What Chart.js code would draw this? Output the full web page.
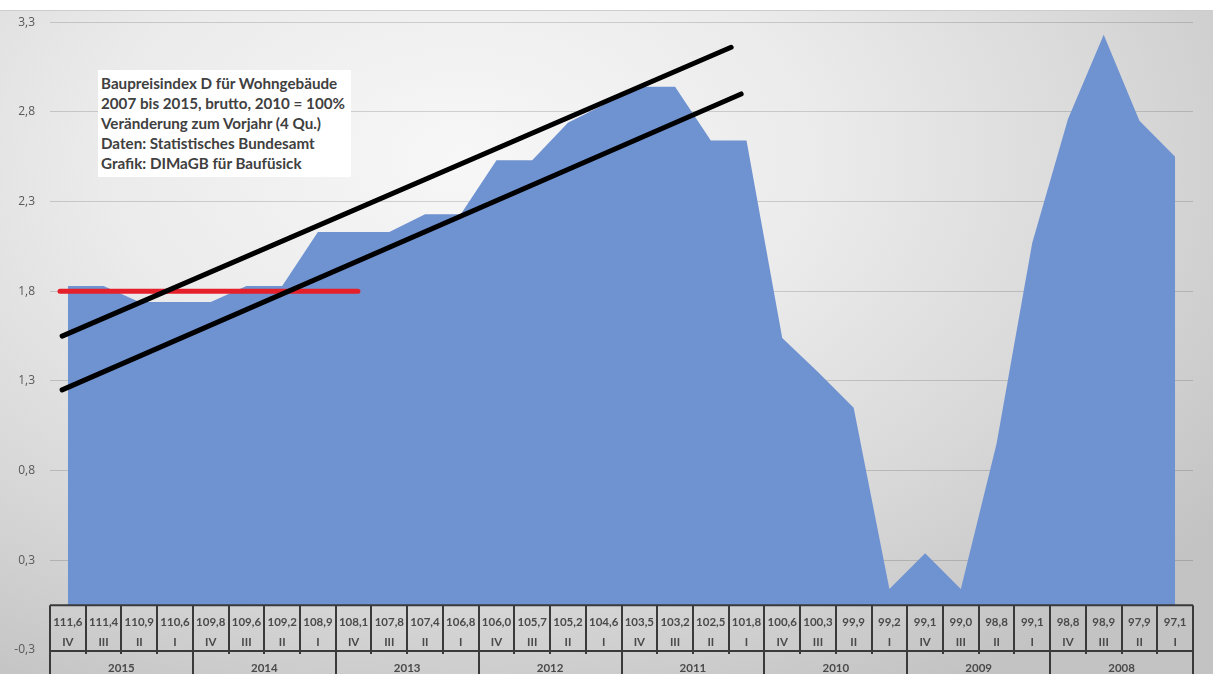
<!DOCTYPE html>
<html lang="de">
<head>
<meta charset="UTF-8">
<title>Baupreisindex Wohngebäude</title>
<script src="https://cdn.jsdelivr.net/npm/chart.js@4"></script>
<style>
  body { margin: 0; background: #fff; }
  #wrap { position: relative; width: 1213px; height: 674px; overflow: hidden; }
  #bg {
    position: absolute; left: 0; top: 10px; width: 1213px; height: 664px;
    border-top: 1px solid #cdcdcd;
    background: radial-gradient(ellipse 78% 92% at 38% 22%, #f7f7f7 0%, #ebebeb 38%, #d8d8d8 70%, #c3c3c3 100%);
  }
  #chart { position: absolute; left: 0; top: 0; }
  .info {
    position: absolute; left: 98px; top: 70px; width: 250px; height: 102px;
    padding: 3px 0 2px 3px; background: #fff;
    font: bold 15.2px Lato, sans-serif; line-height: 20px; color: #404040;
    white-space: nowrap;
  }
</style>
</head>
<body>
<div id="wrap">
  <div id="bg"></div>
  <canvas id="chart" width="1213" height="674"></canvas>
  <div class="info">
    Baupreisindex D für Wohngebäude<br>
    2007 bis 2015, brutto, 2010 = 100%<br>
    Veränderung zum Vorjahr (4 Qu.)<br>
    Daten: Statistisches Bundesamt<br>
    Grafik: DIMaGB für Baufüsick
  </div>
</div>

<script>
// Quarters run newest (2015 IV) to oldest (2008 I)
const years = ['2015', '2014', '2013', '2012', '2011', '2010', '2009', '2008'];
const quarters = ['IV', 'III', 'II', 'I'];
const indexValues = ['111,6', '111,4', '110,9', '110,6', '109,8', '109,6', '109,2', '108,9',
                     '108,1', '107,8', '107,4', '106,8', '106,0', '105,7', '105,2', '104,6',
                     '103,5', '103,2', '102,5', '101,8', '100,6', '100,3', '99,9', '99,2',
                     '99,1', '99,0', '98,8', '99,1', '98,8', '98,9', '97,9', '97,1'];

// change to previous year in %
const changePct = [1.78, 1.78, 1.69, 1.69, 1.69, 1.78, 1.78, 2.08,
                   2.08, 2.08, 2.18, 2.18, 2.48, 2.48, 2.69, 2.79,
                   2.89, 2.89, 2.59, 2.59, 1.49, 1.30, 1.10, 0.09,
                   0.29, 0.09, 0.90, 2.02, 2.71, 3.18, 2.70, 2.50];

const yTickValues = [-0.25, 0.25, 0.75, 1.25, 1.75, 2.25, 2.75, 3.25];
const yTickLabels = ['-0,3', '0,3', '0,8', '1,3', '1,8', '2,3', '2,8', '3,3'];

// hand-drawn trend channel and reference level (x in quarter positions)
const upperTrend = [{ x: -0.16, y: 1.50 }, { x: 18.57, y: 3.11 }];
const lowerTrend = [{ x: -0.16, y: 1.20 }, { x: 18.85, y: 2.85 }];
const refLevel = [{ x: -0.22, y: 1.75 }, { x: 8.12, y: 1.75 }];

const categories = [];
years.forEach(yr => quarters.forEach(q => categories.push(yr + ' ' + q)));

const tableFont = 'bold 11.5px Lato, sans-serif';

// category labels drawn as a boxed table hanging from the zero line
const categoryTable = {
  id: 'categoryTable',
  afterDraw(chart) {
    const { ctx, chartArea, scales } = chart;
    const xs = scales.x, ys = scales.y;
    const n = categories.length;
    const step = (chartArea.right - chartArea.left) / n;
    const top = ys.getPixelForValue(0);
    const mid = chartArea.bottom + 1;
    const bottom = chart.height;

    ctx.save();
    ctx.strokeStyle = '#3a3a3a';
    ctx.lineWidth = 2;
    ctx.beginPath();
    ctx.moveTo(chartArea.left, top);
    ctx.lineTo(chartArea.right, top);
    ctx.moveTo(chartArea.left, mid);
    ctx.lineTo(chartArea.right, mid);
    for (let i = 0; i <= n; i++) {
      const bx = Math.round(chartArea.left + i * step);
      ctx.moveTo(bx, top);
      ctx.lineTo(bx, i % quarters.length === 0 ? bottom : mid + 3);
    }
    ctx.stroke();

    ctx.fillStyle = '#4a4a4a';
    ctx.font = tableFont;
    ctx.textAlign = 'center';
    ctx.textBaseline = 'middle';
    for (let i = 0; i < n; i++) {
      const cx = xs.getPixelForValue(i);
      ctx.fillText(indexValues[i], cx, top + 17);
      ctx.fillText(quarters[i % quarters.length], cx, top + 37);
    }
    years.forEach((yr, j) => {
      const cx = xs.getPixelForValue(j * quarters.length + 1.5);
      ctx.fillText(yr, cx, mid + 17);
    });
    ctx.restore();
  }
};

const lineStyle = (color, width) => ({
  type: 'line',
  xAxisID: 'xl',
  borderColor: color,
  borderWidth: width,
  borderCapStyle: 'round',
  pointRadius: 0,
  fill: false
});

new Chart(document.getElementById('chart'), {
  type: 'line',
  data: {
    labels: categories,
    datasets: [
      {
        data: changePct,
        backgroundColor: '#6f92d1',
        borderWidth: 0,
        pointRadius: 0,
        tension: 0,
        fill: 'origin',
        order: 3
      },
      Object.assign({ data: refLevel, order: 2 }, lineStyle('#e5202b', 5)),
      Object.assign({ data: upperTrend, order: 1 }, lineStyle('#000000', 5)),
      Object.assign({ data: lowerTrend, order: 1 }, lineStyle('#000000', 5))
    ]
  },
  options: {
    responsive: false,
    animation: false,
    layout: { padding: { top: 16, right: 20, bottom: 24, left: 0 } },
    plugins: { legend: { display: false }, tooltip: { enabled: false } },
    scales: {
      x: { type: 'category', display: false, offset: true },
      xl: { type: 'linear', display: false, min: -0.5, max: categories.length - 0.5 },
      y: {
        min: yTickValues[0],
        max: yTickValues[yTickValues.length - 1],
        z: 1,
        afterFit(scale) { scale.width = 50; },
        afterBuildTicks(scale) { scale.ticks = yTickValues.map(v => ({ value: v })); },
        border: { display: false },
        grid: { color: 'rgba(0,0,0,0.15)', lineWidth: 1, drawTicks: false },
        ticks: {
          padding: 15,
          color: '#595959',
          font: { family: '"Open Sans", sans-serif', size: 12 },
          callback: (v) => yTickLabels[yTickValues.indexOf(v)]
        }
      }
    }
  },
  plugins: [categoryTable]
});
</script>
</body>
</html>
